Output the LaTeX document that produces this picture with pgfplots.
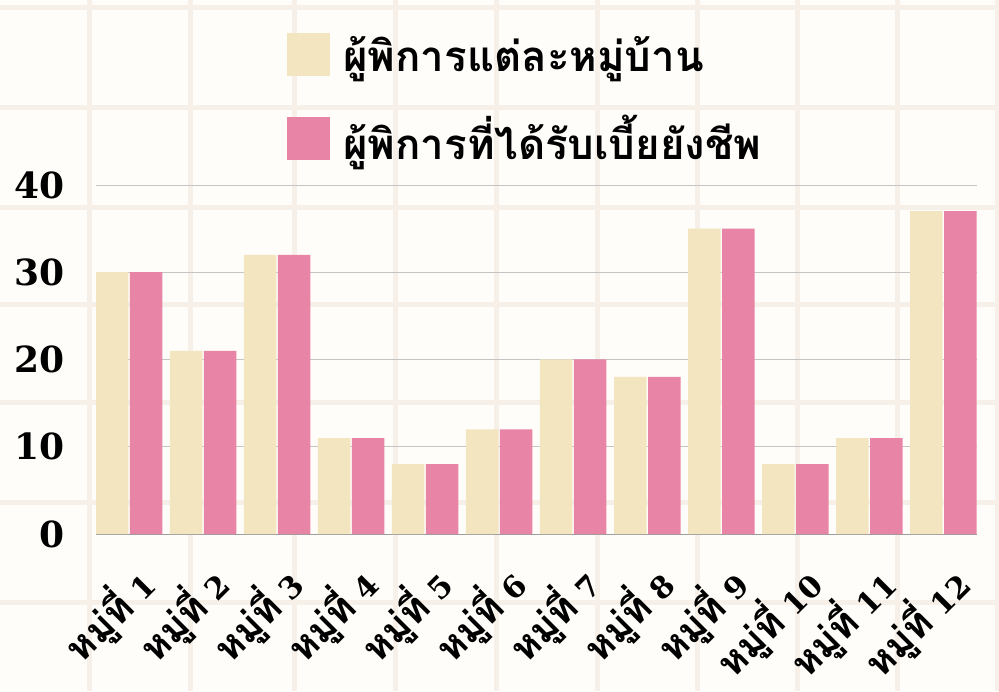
\documentclass[border=0pt]{standalone}
\usepackage{fontspec}
\setmainfont{DejaVu Serif}
\newfontfamily\thaifont[Script=Thai]{Loma}
\usepackage{pgfplots}
\pgfplotsset{compat=1.18}
\definecolor{bgc}{HTML}{FEFDF9}
\definecolor{gridc}{HTML}{F6F0E8}
\definecolor{creamc}{HTML}{F3E5C0}
\definecolor{pinkc}{HTML}{E885A7}
\definecolor{axc}{HTML}{C4C4C4}
\newcommand\ml[1]{{\thaifont\bfseries\fontsize{39}{39}\selectfont หมู่ที่}~#1}
\pgfplotstableread{
x a b
0 30 30
1 21 21
2 32 32
3 11 11
4 8 8
5 12 12
6 20 20
7 18 18
8 35 35
9 8 8
10 11 11
11 37 37
}\datatab
\begin{document}
\begin{tikzpicture}[x=1pt,y=1pt]
\useasboundingbox (0,0) rectangle (999,691);
\fill[bgc] (0,0) rectangle (999,691);
\begin{scope}
\clip (0,0) rectangle (999,691);
\foreach \x in {89,190,294,395,496,597,697,797,897,997} \draw[gridc,line width=5] (\x,0) -- (\x,691);
\foreach \y in {8,108,208,305,403,503,603} \draw[gridc,line width=5] (0,691-\y) -- (999,691-\y);
\end{scope}
\begin{axis}[at={(96pt,157pt)}, anchor=south west, scale only axis,
  width=881pt, height=349pt,
  xmin=-0.446, xmax=11.454, ymin=0, ymax=40,
  ybar, bar width=32.5pt,
  axis x line*=bottom, axis y line*=left,
  x axis line style={draw=axc!80!black, line width=1pt},
  y axis line style={draw=none},
  ytick={0,10,20,30,40}, ymajorgrids, grid style={draw=axc, line width=0.8pt},
  major tick length=0pt,
  /pgf/number format/assume math mode=true,
  yticklabel style={font=\fontsize{36}{36}\selectfont\bfseries, anchor=east, inner sep=0pt, xshift=-31pt},
  xtick={0,...,11},
  xticklabels={\ml{1},\ml{2},\ml{3},\ml{4},\ml{5},\ml{6},\ml{7},\ml{8},\ml{9},\ml{10},\ml{11},\ml{12}},
  xticklabel style={font=\fontsize{30}{30}\selectfont\bfseries, xshift=19pt, yshift=-43pt, rotate=45, anchor=east, inner sep=0pt},
  legend style={at={(0.2168,1.4355)}, anchor=north west, draw=none, fill=none, inner sep=0pt,
    row sep=39pt, nodes={inner sep=0pt}, font=\thaifont\bfseries\fontsize{42}{42}\selectfont,
    /tikz/every odd column/.append style={column sep=13pt}},
  legend cell align=left,
  legend image code/.code={\fill[#1] (0pt,-21.5pt) rectangle (43pt,21.5pt);},
]
\addplot[fill=creamc, draw=none, bar shift=-17pt] table[x=x,y=a] {\datatab};
\addplot[fill=pinkc, draw=none, bar shift=17pt] table[x=x,y=b] {\datatab};
\legend{ผู้พิการแต่ละหมู่บ้าน, ผู้พิการที่ได้รับเบี้ยยังชีพ}
\end{axis}
\end{tikzpicture}
\end{document}
